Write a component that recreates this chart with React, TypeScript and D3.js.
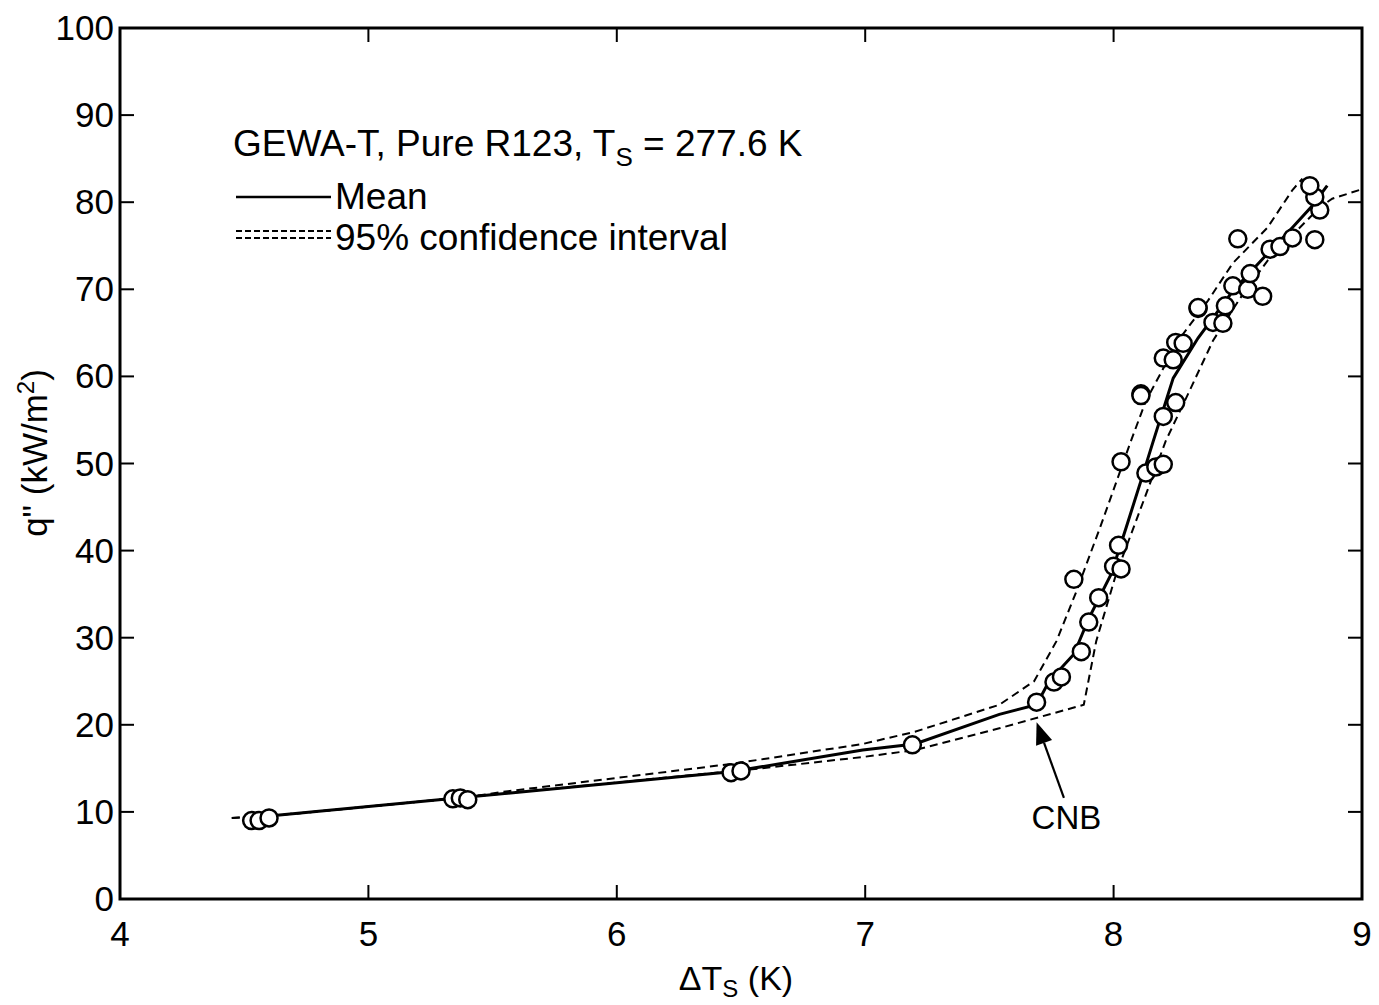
import React from "react";
import * as d3 from "d3";

const xTicks = [4, 5, 6, 7, 8, 9];
const yTicks = [0, 10, 20, 30, 40, 50, 60, 70, 80, 90, 100];

const dataX = [4.53, 4.56, 4.6, 5.34, 5.37, 5.4, 6.46, 6.5, 7.19, 7.69, 7.76, 7.79, 7.84, 7.87, 7.9, 7.94, 8.0, 8.03, 8.02, 8.03, 8.13, 8.17, 8.2, 8.11, 8.11, 8.2, 8.25, 8.2, 8.24, 8.25, 8.28, 8.34, 8.34, 8.4, 8.44, 8.45, 8.48, 8.54, 8.55, 8.6, 8.63, 8.67, 8.72, 8.5, 8.81, 8.83, 8.81, 8.79];
const dataY = [9.0, 9.0, 9.3, 11.5, 11.6, 11.4, 14.5, 14.7, 17.7, 22.6, 24.9, 25.5, 36.7, 28.4, 31.8, 34.6, 38.2, 37.9, 40.6, 50.2, 48.9, 49.6, 49.9, 58.0, 57.8, 55.4, 57.0, 62.1, 61.9, 63.9, 63.8, 67.8, 67.9, 66.2, 66.1, 68.1, 70.4, 70.0, 71.8, 69.2, 74.6, 74.9, 75.9, 75.8, 75.7, 79.1, 80.6, 81.9];

const meanX = [4.59, 5.4, 6.46, 6.99, 7.2, 7.54, 7.69, 7.74, 7.84, 7.9, 7.99, 8.05, 8.11, 8.16, 8.24, 8.34, 8.48, 8.62, 8.72, 8.8, 8.86];
const meanY = [9.5, 11.7, 14.6, 17.1, 17.8, 21.2, 22.3, 25.0, 28.1, 32.2, 37.3, 42.6, 48.0, 52.6, 59.8, 64.4, 69.8, 74.1, 77.1, 79.6, 81.9];

const upperX = [4.45, 4.59, 5.4, 5.54, 6.46, 6.99, 7.2, 7.54, 7.68, 7.77, 7.85, 7.95, 8.07, 8.13, 8.26, 8.38, 8.48, 8.62, 8.72, 8.76];
const upperY = [9.3, 9.5, 11.7, 12.3, 15.5, 17.8, 19.2, 22.3, 25.0, 29.6, 35.3, 43.0, 52.6, 57.2, 64.1, 68.7, 73.0, 77.1, 81.4, 82.7];

const lowerX = [4.45, 4.59, 5.4, 6.58, 6.99, 7.2, 7.54, 7.88, 7.93, 8.01, 8.11, 8.21, 8.3, 8.4, 8.51, 8.62, 8.75, 8.83, 8.88, 8.99];
const lowerY = [9.3, 9.5, 11.7, 15.0, 16.3, 17.1, 19.6, 22.3, 29.6, 37.3, 44.9, 52.6, 58.0, 64.1, 69.0, 73.3, 77.1, 79.4, 80.4, 81.4];

const FONT = "'Liberation Sans', Arial, Helvetica, sans-serif";

export default function App() {
  const left = 120, right = 1362, top = 28, bottom = 899;
  const x = d3.scaleLinear().domain([4, 9]).range([left, right]);
  const y = d3.scaleLinear().domain([0, 100]).range([bottom, top]);
  const line = d3.line<[number, number]>().x(d => x(d[0])).y(d => y(d[1]));
  const zip = (a: number[], b: number[]) => a.map((v, i) => [v, b[i]] as [number, number]);
  const tick = 14;

  // CNB arrow geometry (data coords)
  const ax1 = x(7.8), ay1 = y(11.6), ax2 = x(7.69), ay2 = y(20.3);
  const ang = Math.atan2(ay2 - ay1, ax2 - ax1);
  const hl = 22, hw = 8.5;
  const bx = ax2 - hl * Math.cos(ang), by = ay2 - hl * Math.sin(ang);
  const px = -Math.sin(ang) * hw, py = Math.cos(ang) * hw;

  return (
    <svg width={1379} height={1005} style={{ position: "absolute", left: 0, top: 0, background: "#fff" }} fontFamily={FONT}>
      {/* frame */}
      <rect x={left} y={top} width={right - left} height={bottom - top} fill="none" stroke="#000" strokeWidth={3} />
      {/* ticks */}
      {xTicks.slice(1, -1).map(t => (
        <g key={"xt" + t}>
          <line x1={x(t)} x2={x(t)} y1={bottom} y2={bottom - tick} stroke="#000" strokeWidth={2} />
          <line x1={x(t)} x2={x(t)} y1={top} y2={top + tick} stroke="#000" strokeWidth={2} />
        </g>
      ))}
      {yTicks.slice(1, -1).map(t => (
        <g key={"yt" + t}>
          <line x1={left} x2={left + tick} y1={y(t)} y2={y(t)} stroke="#000" strokeWidth={2} />
          <line x1={right} x2={right - tick} y1={y(t)} y2={y(t)} stroke="#000" strokeWidth={2} />
        </g>
      ))}
      {xTicks.map(t => (
        <text key={"xl" + t} x={x(t)} y={946} fontSize={35} textAnchor="middle">{t}</text>
      ))}
      {yTicks.map(t => (
        <text key={"yl" + t} x={114} y={y(t) + 12} fontSize={35} textAnchor="end">{t}</text>
      ))}
      {/* axis titles */}
      <text x={736} y={990} fontSize={34} textAnchor="middle">ΔT<tspan dy={7} fontSize={24}>S</tspan><tspan dy={-7}> (K)</tspan></text>
      <text transform="translate(47,453) rotate(-90)" fontSize={35} textAnchor="middle">q" (kW/m<tspan dy={-13} fontSize={24}>2</tspan><tspan dy={13}>)</tspan></text>
      {/* legend */}
      <text x={233} y={156} fontSize={37}>GEWA-T, Pure R123, T<tspan dy={10} fontSize={26}>S</tspan><tspan dy={-10}> = 277.6 K</tspan></text>
      <line x1={236} x2={331} y1={197} y2={197} stroke="#000" strokeWidth={2.5} />
      <text x={335} y={209} fontSize={37}>Mean</text>
      <line x1={236} x2={331} y1={231} y2={231} stroke="#000" strokeWidth={1.8} strokeDasharray="6,3" />
      <line x1={236} x2={331} y1={238} y2={238} stroke="#000" strokeWidth={1.8} strokeDasharray="6,3" />
      <text x={335} y={250} fontSize={37}>95% confidence interval</text>
      {/* curves */}
      <path d={line(zip(upperX, upperY)) || ""} fill="none" stroke="#000" strokeWidth={2} strokeDasharray="8,5" />
      <path d={line(zip(lowerX, lowerY)) || ""} fill="none" stroke="#000" strokeWidth={2} strokeDasharray="8,5" />
      <path d={line(zip(meanX, meanY)) || ""} fill="none" stroke="#000" strokeWidth={3} />
      {/* data */}
      {dataX.map((v, i) => (
        <circle key={"p" + i} cx={x(v)} cy={y(dataY[i])} r={8.5} fill="#fff" stroke="#000" strokeWidth={2.5} />
      ))}
      {/* CNB annotation */}
      <line x1={ax1} y1={ay1} x2={bx} y2={by} stroke="#000" strokeWidth={2.2} />
      <path d={`M${ax2},${ay2} L${bx + px},${by + py} L${bx - px},${by - py} Z`} fill="#000" />
      <text x={x(7.81)} y={829} fontSize={33} textAnchor="middle">CNB</text>
    </svg>
  );
}
